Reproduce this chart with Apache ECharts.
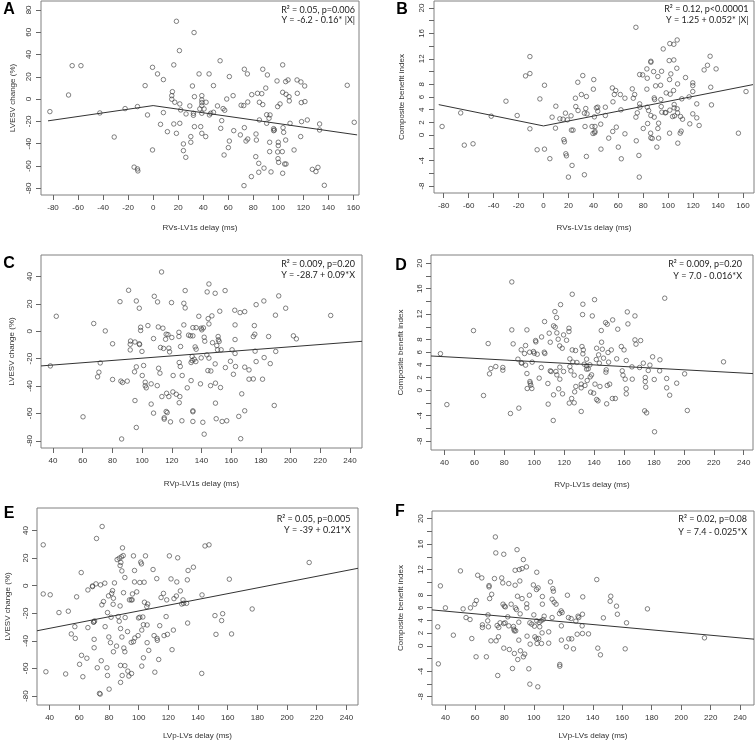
<!DOCTYPE html>
<html><head><meta charset="utf-8">
<script src="https://cdn.jsdelivr.net/npm/echarts@6/dist/echarts.min.js"></script>
<style>html,body{margin:0;padding:0;background:#fff}#c{width:756px;height:743px}</style>
</head><body><div id="c"></div>
<script>
// ---------- DATA ----------
const ptsA = [[-82.5,-11.2],[-64.7,30],[-57.7,30],[-67.6,3.7],[-42.6,-12.4],[-31.1,-34],[-22.4,-8.5],[-15.2,-61],[-12.5,-6.7],[-12.5,-62.6],[-12.2,-64.4],[-6.4,12.1],[-4.5,-14.2],[-0.5,28.5],[-0.5,-45.6],[3.5,22.6],[5.9,-22.6],[8.2,17.5],[8.2,-12.1],[11.4,-29.2],[15.4,6.7],[14.9,3.1],[14.9,-0.1],[16.5,30.7],[16.5,-22.3],[17.3,-2.8],[18.6,69.8],[18.6,-30.7],[21,43.5],[21.3,-4.3],[21.3,-21.7],[22,-9.7],[24.2,-40.2],[24.2,-46.2],[26.3,-13.3],[26.1,-52.2],[29.3,-6.1],[30.1,-33.6],[30.1,-38.7],[31.4,11.8],[32.2,-12.7],[32.2,-14.5],[32.7,59.7],[33,2.2],[33,-24.7],[36.7,22.6],[37.3,-8.8],[38,-24.7],[38.9,3.1],[38.9,-0.7],[38.9,-3.1],[38.9,-5.8],[38.9,-12.7],[38.9,-30.7],[40.7,-8.8],[42,-33.6],[42.3,-2.8],[44.7,22.6],[45,-14.2],[46,-12.7],[48.2,12.1],[48.2,-11.8],[51.4,-6.1],[53.5,34.4],[54,-26.2],[54.8,-19.3],[55.9,-8.5],[57.2,-10],[56.7,-50.1],[58.8,0.1],[60.1,-43.5],[60.9,20.2],[60.9,-37.6],[63.9,3.1],[64.4,-28.3],[69.7,-32.1],[70.3,-5.5],[72.4,-5.8],[72.6,-77.6],[72.9,26.8],[72.9,-25.6],[74.2,-37.6],[75.3,22.6],[75.6,-2.6],[75.6,-35.8],[78.5,-69.5],[78.8,4],[82.2,-31.3],[82,-51.6],[82.5,-36.7],[83.4,5.2],[84.4,-57.6],[84.9,-18.7],[84.4,-65.6],[84.9,-2.8],[86.8,4.9],[87.6,26.8],[87.6,-4.9],[88.6,-61.9],[90,9.9],[90.7,-14],[90.7,-21.7],[91.3,21.7],[92.6,-17.2],[93.1,-38.7],[93.1,-47.1],[93.4,-14.2],[94.2,-65.3],[96.3,-28.3],[96.3,-26.5],[96.9,-27.7],[99,16.3],[99.5,-6.7],[100,-38.7],[100,-41.7],[99.5,-47.4],[99.8,-53.4],[100.3,-56.7],[101.4,-4.3],[103.2,-47.1],[103.5,-66.5],[103.5,30.7],[103.5,6.1],[103.8,-25.6],[104.3,-29.8],[105.1,-58.2],[105.9,15.7],[105.9,-36.7],[106.2,4.3],[106.2,-58.2],[107.8,17.2],[108.6,2.2],[108.8,-1.6],[109.4,-21.7],[112.6,-45.6],[115,17.2],[115.2,5.2],[117.9,-33.6],[118.1,15.4],[118.4,-3.1],[118.6,-20.2],[121.1,11.8],[121.3,-2.2],[123.2,-18.7],[127.2,-63],[130.1,-65],[131.7,-61.2],[133,-22.3],[133,-27.7],[136.8,-77.3],[155.1,12.4],[160.7,-20.8]];
const ptsB = [[-81.3,1.36],[-66.4,3.5],[-63.5,-1.57],[-56.5,-1.36],[-41.9,2.98],[-30.1,5.34],[-21.1,3.09],[-14.4,9.32],[-10.9,12.36],[-10.9,9.69],[-10.9,1],[-2.9,5.7],[-5.1,-2.3],[0.8,7.85],[0.8,-2.2],[5.1,-3.7],[6.9,2.83],[9.6,1.1],[9.9,4.55],[13.1,2.57],[15.7,2.51],[16.3,-0.7],[16.8,-1.05],[17.6,3.46],[17.9,-2.93],[18.4,-3.25],[19.2,2.41],[20,-6.6],[22.1,3.04],[22.4,0.79],[22.9,-4.76],[23.7,0.79],[25.6,5.81],[25.9,4.5],[27.5,8.32],[27.7,3.87],[30.4,6.39],[31.5,9.37],[32.8,-6.23],[32.8,3.46],[33.3,1.36],[33.9,4.19],[34.4,6.07],[34.4,-3.35],[34.9,3.35],[38.9,1.36],[39.7,0.26],[40,7.23],[40.3,8.74],[40.8,2.88],[41.1,0.37],[41.3,0.58],[41.3,1.36],[42.4,4.29],[43.5,4.4],[43.5,3.77],[45.9,1.73],[46.1,-2.2],[49.6,4.4],[49.6,3.09],[52.3,-0.47],[55.2,7.43],[55.7,5.24],[55.5,0.58],[56.8,6.39],[57.9,7.02],[58.4,1.26],[60,-1.88],[61.6,6.39],[62.1,3.98],[62.4,-3.72],[65.3,5.81],[65.3,0.21],[71.2,7.28],[72,5.81],[73.1,6.39],[74.1,16.96],[74.1,2.83],[74.4,-0.89],[75.2,3.51],[76.5,-3.19],[76.8,-6.6],[77.1,9.53],[77.1,4.92],[77.3,4.4],[79.5,9.48],[80,1.05],[82.9,10.42],[82.9,7.23],[83.2,4.4],[83.2,8.95],[83.5,1.83],[84.3,3.87],[85.9,0.31],[86.1,11.62],[86.1,11.47],[86.1,3.09],[86.1,-0.42],[87.2,-0.52],[88.3,10],[88.8,2.83],[88.8,5.86],[89.1,5.6],[89.9,7.75],[90.9,-1.88],[91.7,9.22],[91.7,1.05],[92.3,-0.47],[92.3,1.88],[93.9,7.85],[94.1,5.6],[94.4,4.5],[94.7,10.05],[94.9,3.61],[96,13.56],[97.6,3.51],[98.1,3.56],[98.4,6.65],[100.8,11.73],[101.1,8.74],[101.1,0.31],[101.3,3.93],[101.3,14.4],[101.6,6.44],[102.1,9.63],[103.5,2.93],[104.3,7.02],[104.5,11.83],[104.5,14.29],[104.8,4.29],[104.8,4.82],[105.1,3.04],[107.2,14.97],[106.9,10.52],[107.5,8.06],[107.2,4.14],[107.5,3.51],[107.7,-1.26],[109.6,0.31],[109.9,2.93],[110.4,0.63],[110.9,5.71],[111.5,2.51],[113.9,9.06],[116.8,6.02],[117.3,1.78],[119.7,8.22],[119.7,7.8],[119.7,6.86],[119.7,3.35],[122.9,2.72],[122.9,4.92],[124.8,1.52],[128.8,10.26],[131.5,10.99],[133.6,12.41],[134.1,7.54],[134.7,4.76],[138.4,10.42],[156.3,0.31],[162.4,6.86]];
const ptsC = [[38.2,-25.3],[42.2,11],[60.2,-62.5],[67.4,5.7],[70,-33.3],[70.9,-29.9],[71.8,-23.1],[75.2,0.3],[80.1,-9.1],[80.1,-35.2],[85.1,21.7],[85.7,-36.4],[86.2,-78.7],[86.8,-37.4],[90,-36.4],[90.9,30],[92,-9.5],[92,-13.6],[92.2,-7.1],[94.9,-29.6],[95.2,-50.6],[95.2,-7.8],[96.1,22.2],[96.1,-26],[96.1,-70.3],[98.1,16.9],[98.1,-9.1],[98.3,-9.7],[99,3],[99,0.6],[99.9,-14.7],[100.1,-32.3],[101,-25],[102.1,-37.2],[102.1,-39.8],[102.8,-41.3],[103.9,4.2],[106.1,-53.2],[106.1,-38.4],[107.7,-5.3],[107.7,-59.8],[108.2,25.6],[110.2,-39.7],[110.4,21.5],[110.9,3.2],[111.1,-27],[112,-30.6],[112.4,-11.8],[113.1,43.4],[113.3,-47.7],[114,2.3],[114.4,-12.5],[114.9,-63.2],[114.9,-64.2],[115.8,-5.8],[116.2,-2.1],[116.2,-58.6],[116.5,-45.3],[116.9,-59.4],[117.4,-2.4],[118,-12.3],[118,-47.7],[118.5,-15],[119.1,-66.2],[120,-4.5],[119.8,21],[120.7,-44.3],[120.9,-32.3],[123,-46],[124.8,-0.7],[124.8,-3.8],[125,-22.8],[125,-52.2],[125.4,-47.7],[125.7,-25.7],[125.9,-11.1],[126.8,-65.4],[127,-32.3],[128.1,20.5],[128.1,4.7],[129,29.8],[129,17.1],[130.4,-41.3],[131.3,-2.8],[132.6,-3.3],[133,-22.8],[133,-36],[133.7,-21.4],[133.7,-18.4],[134.2,-58.1],[134.2,-65.9],[134.2,2.7],[134.2,-3.3],[134.2,-58.8],[135.1,-20.4],[135.7,-11.4],[136.4,2.7],[136.4,-13.1],[136.2,-22.1],[138.2,11],[139.3,-38.4],[139.8,2.3],[139.8,-19.4],[140.2,1.1],[140.9,-66.5],[141.3,2.5],[141.8,-75.2],[141.8,-4.3],[142.2,-7.2],[143.6,-17.2],[143.8,28.8],[144.3,-28.7],[144.5,9.3],[145,5.4],[145,-19.6],[145,34.6],[146.1,-39.7],[146.3,-29],[147,11.3],[147.4,-8.3],[149.2,27.8],[149.2,-23.8],[149.4,-37.9],[149.4,-52.5],[149.9,-63.9],[150.3,-10.4],[150.8,-13.5],[151.2,-3.8],[151.4,-6.2],[151.9,-7.4],[152.3,14.7],[152.8,-41.1],[153.2,-13.5],[153.9,-65.9],[155.9,29.8],[156.1,-26.5],[157,-65.4],[159.5,-21.9],[160.6,-13.5],[161.5,-31.4],[162.4,15.4],[162.6,4.7],[162.6,-6],[162.6,-16.2],[162.9,-25.7],[165.1,-62.2],[166,13.7],[166.4,-78.5],[167.1,-45.7],[169.1,-26.2],[169.1,-58.1],[169.1,14.4],[172,-28.2],[172,-35],[174.9,-34.8],[174.9,-3.8],[175.6,4.2],[175.9,-2.1],[176.1,-14.5],[176.8,19.5],[176.8,-22.1],[181.1,-35],[182,22.2],[182.2,-19.2],[185.2,-3.8],[186.3,-23.6],[189,-54.2],[189.8,11.8],[190,-14.7],[192,25.9],[196.7,16.9],[201.9,-3.3],[203.9,-5.5],[227,11.6]];
const ptsD = [[37.3,5.77],[41.6,-2.25],[59.4,9.4],[66.1,-0.82],[69.2,7.36],[70.1,2.59],[71,3.43],[74.3,3.74],[79,3.59],[79,3.17],[84.1,-3.65],[85,17.06],[85,9.51],[85.9,7.31],[89.7,-2.81],[89.1,4.9],[91.3,6.38],[91.3,4.33],[91.7,4.27],[93.5,5.79],[94.2,7.05],[94.2,3.96],[95.1,9.51],[95.1,2.64],[95.3,0.28],[96.9,6],[97.1,1.38],[97.3,1.12],[97.7,0.81],[98.4,0.28],[98.6,4.43],[99.5,6.1],[100,5.84],[100.9,7.83],[101.1,7.62],[102,5.68],[103.3,1.91],[104.7,3.59],[104.9,8.4],[106.7,6],[106.9,10.82],[107.1,5.79],[109.1,1.07],[109.3,-2.18],[110,8.99],[110.7,7.57],[110.7,3.06],[111.3,2.96],[112.7,-4.75],[112.9,10.14],[112.9,-0.71],[113.8,12.39],[114,9.93],[114.5,2.96],[114.9,11.45],[115.1,2.43],[115.1,9.04],[116,8.04],[116.3,0.23],[117,6.99],[117.1,3.64],[117.1,1.75],[117.6,13.49],[118.7,6.62],[118.9,-0.56],[119.6,8.72],[119.6,2.96],[121.6,7.88],[123.2,9.77],[123.2,9.25],[123.4,-2.02],[123.8,4.95],[123.8,3.74],[124.5,3.06],[125,-1.29],[125.4,6.36],[125.4,15.12],[125.8,4.43],[126.7,2.38],[126.7,-1.97],[127,-0.24],[127.6,6.26],[128.5,4.38],[127.8,0.6],[131.4,0.39],[131.4,2.12],[131.4,0.97],[131.4,-3.33],[131.9,6.89],[132.5,13.55],[132.3,11.92],[132.8,6.36],[132.5,5.74],[133.4,4.11],[133.9,0.76],[135,4.9],[135,3.33],[135,3.85],[135.4,1.54],[136.1,3.38],[137.2,4.01],[137.4,2.12],[137.7,-0.29],[138.3,2.43],[138.8,11.71],[139.7,-0.45],[140.3,14.27],[140.6,0.97],[141.5,4.85],[141.7,6.62],[141.7,-1.45],[142.6,-1.66],[143,5.58],[143.5,4.27],[143.9,0.6],[144.8,9.41],[145,7.57],[145.5,6.47],[146.3,5.06],[147.7,10.66],[147.9,2.85],[148.1,3.22],[148.4,-2.13],[148.8,10.4],[148.8,0.76],[149.3,5.95],[149.7,4.43],[150.4,0.97],[151.5,6.36],[152.2,-1.29],[152.4,11.08],[154.2,-1.29],[155.1,4.95],[155.8,9.62],[158.2,6.89],[158.8,3.06],[159.3,2.38],[160,6.36],[160.8,1.75],[161.5,4.69],[161.5,-0.56],[161.5,0.23],[162.2,12.34],[162.6,10.45],[165.3,3.69],[165.5,1.75],[167.3,7.94],[167.3,11.71],[168,7.26],[170.4,3.59],[171.1,7.83],[172.9,4.27],[174.2,2.01],[174.2,1.38],[174.5,0.49],[173.8,-3.23],[175.1,-3.55],[176.2,3.12],[177.3,3.96],[179.1,5.27],[180.2,1.7],[180.4,-6.53],[184,4.8],[183.8,3.06],[187.2,14.5],[188.5,1.86],[188.5,0.39],[190.5,-0.77],[195.2,1.12],[200.5,2.59],[202.3,-3.18],[226.5,4.48]];
const ptsE = [[35.7,29.6],[35.7,-6],[37.5,-62.4],[40.4,-6.6],[46.3,-19.5],[50.8,-64],[52.6,-18.5],[54.6,-35],[57,-29.7],[57.3,-38.2],[58.2,-8.1],[60.2,-57],[61.3,9.5],[61.5,-50.5],[62.4,-66],[65.1,-52.6],[65.8,-3.1],[65.8,-30.4],[68.9,-0.2],[68.9,-0.7],[69.6,-26.5],[69.8,-26.3],[70,-38.9],[70,-45],[70.3,-25.6],[71.2,1.3],[71.6,34.2],[72.1,-59.5],[73.6,-78.1],[74.1,-78.6],[74.3,0.6],[74.8,-54.4],[75.2,-13.9],[75.4,42.9],[76.3,-11.5],[77.2,1.8],[77.4,-29.7],[78.6,-59.5],[79,-19.5],[79,-65.1],[79.7,-7.4],[79.9,-37.2],[80.1,-75],[81,-41.3],[81.4,-22.9],[81.8,-5.6],[82.4,-3.6],[82.8,-13.5],[83,-47.9],[83,-9.1],[83.7,2],[85.1,-43.8],[85.5,18.9],[86.2,-22.4],[86.9,-25.8],[86.9,19.9],[87.5,14.6],[87.5,-14.7],[87.8,-31.1],[87.8,-57.8],[87.8,-70.1],[88,16.8],[88.4,20.9],[88.7,10.7],[88.7,-37.2],[88.9,-65.1],[89.1,27.4],[89.6,21.8],[89.8,-5.1],[90,-45.2],[90.7,-47.9],[90.7,-58],[90.7,5.9],[90.9,-23.1],[92.5,-33.3],[92.7,-61.9],[93.4,-65.5],[93.8,-10.3],[95,-10.3],[95,-41.1],[95.2,-63.7],[95.6,-10.3],[95.8,-6],[96.5,21.6],[96.5,-40.6],[97.2,11],[97.2,2.7],[97.4,-37.9],[98.7,-4.5],[99.6,-36.2],[99.9,-23.4],[100.8,2.3],[100.8,-22.9],[101.4,17.1],[101.9,15.8],[102.1,-32.2],[102.1,-58.3],[102.8,-22.7],[103.2,-28.3],[103.2,-52.3],[103.7,2.5],[103.9,-12],[104.6,21.6],[105.5,-15.2],[105.7,-41.3],[105.7,-28.5],[106.1,-13.3],[106.8,-46.9],[109.7,11.7],[110.4,-36.2],[110.9,-62.7],[112.2,5.1],[112.4,-38.2],[112.6,-39.6],[113.5,-53.5],[114.2,-29],[115.1,-8.6],[116.7,-5.6],[117.1,-36.2],[118.5,-22.4],[118.9,-10.3],[119.4,-35.3],[120.7,21.6],[121.8,4.9],[122.5,-46.4],[123.4,-32.2],[123.8,-9.4],[125.4,-7.5],[125.7,2.7],[126.3,20.2],[128.1,-3.8],[129,-13.3],[129.9,-10.3],[130.3,-12.8],[132.3,-12.8],[132.8,4.2],[133,-27.1],[133.3,11],[136.9,13.4],[142.5,-63.6],[142.7,-6.7],[144.7,28.8],[147.4,29.6],[151.4,-21.7],[152.1,-35.3],[155.9,-25.3],[156.6,-20.3],[161.1,4.7],[162.6,-35],[176.5,-16.9],[214.9,16.8]];
const ptsF = [[34.8,2.99],[35.2,-2.83],[36.6,9.43],[40,5.97],[45.4,1.68],[50.2,11.78],[52,5.81],[54,4.45],[56.7,4.14],[57,5.97],[57.9,1.15],[59.9,6.55],[60.8,-1.72],[61,7.12],[61.9,11.1],[64.7,10.68],[65.1,3.3],[65.1,2.89],[67.8,-1.72],[68.7,3.93],[68.9,4.87],[69.2,2.99],[69.6,9.48],[69.6,9.27],[70,7.43],[70.9,0.79],[71.4,8.11],[73.3,10.58],[73.9,17.12],[74.2,14.61],[74.4,0.79],[75.1,3.2],[75.5,-4.66],[76,1.42],[76.2,2.89],[77.1,3.62],[78.2,10.68],[78.9,9.9],[79.6,-0.36],[79.6,14.4],[79.1,6.55],[79.6,3.51],[80,6.24],[80.5,3.62],[80.7,6.13],[82.3,4.56],[83,9.79],[83,3.14],[83.4,-0.57],[84.6,6.55],[85.5,-3.56],[86.2,3.04],[86.4,2.62],[86.8,2.36],[86.8,-1.2],[87.3,9.53],[87.3,11.88],[87.5,5.97],[87.7,2.36],[88.2,5.71],[88.6,15.12],[88.9,7.8],[89.1,-2.15],[89.8,3.72],[89.8,0.9],[90.2,11.99],[90.5,10.2],[90.7,5.03],[90.9,-0.78],[92,12.15],[92,7.43],[92.9,13.56],[92.9,-1.72],[93.8,-1.3],[95,12.41],[95.2,6.6],[95.2,5.97],[95.4,1.52],[96.6,-3.61],[97,7.96],[97.3,3.62],[97.3,-6.02],[97.5,0.27],[98.6,3.41],[99.7,9.58],[100,4.87],[100.4,3.09],[100.7,1.42],[101.8,1.1],[101.8,8.85],[102,3.93],[102,11.57],[102.2,0.37],[102.7,-6.44],[102.9,9.11],[103.3,1.15],[103.6,3.67],[104,2.99],[104.9,3.93],[105.2,0.37],[105.6,2.04],[105.8,7.75],[105.8,6.55],[106.3,4.14],[107,4.66],[110.1,2.2],[110.1,0.42],[111.3,10.05],[112.4,7.33],[112.4,4.45],[112.9,9],[113.3,8.59],[113.8,6.86],[115.1,6.55],[117.4,5.08],[117.6,-2.93],[117.6,-3.2],[118.5,5.5],[118.7,3.14],[118.7,0.9],[119.2,5.24],[122.1,-0.15],[122.8,7.96],[123.5,4.45],[123.7,1.1],[125.3,4.29],[125.7,1.1],[126.9,-0.47],[128.5,3.88],[129.4,1.83],[130,4.66],[130.5,4.45],[132.8,3.14],[133,4.97],[133,1.94],[133.2,7.7],[137.1,1.88],[142.7,10.42],[143.4,-0.36],[145.2,-1.41],[147.2,4.4],[151.8,7.01],[152.2,7.8],[156.1,6.24],[156.7,4.97],[162,-0.47],[162.9,3.62],[177.1,5.81],[215.8,1.26]];

// fitted lines
const fitAx = [-84, 0, 163],   fitAy = [-19.5, -5.8, -32.1];
const fitBx = [-84, 0, 168],   fitBy = [4.8, 1.45, 7.95];
const fitCx = [31.9, 248.1],   fitCy = [-25.3, -7.3];
const fitDx = [31, 246.2],     fitDy = [5.4, 2.63];
const fitEx = [31.5, 247.8],   fitEy = [-32.7, 12.6];
const fitFx = [30.9, 249.4],   fitFy = [5.65, 1.05];

// ticks
const xTicksRVs = [-80,-60,-40,-20,0,20,40,60,80,100,120,140,160];
const xTicksDelay = [40,60,80,100,120,140,160,180,200,220,240];
const yTicksA = [-80,-60,-40,-20,0,20,40,60,80];
const yTicksCE = [-80,-60,-40,-20,0,20,40];
const yTicksCBI = [-8,-6,-4,-2,0,2,4,6,8,10,12,14,16,18,20];
const yLabelsCBI = [-8,-4,0,2,4,6,8,12,16,20];

// texts
const panelLetters = ['A','B','C','D','E','F'];
const xTitles = ['RVs-LV1s delay (ms)','RVs-LV1s delay (ms)','RVp-LV1s delay (ms)','RVp-LV1s delay (ms)','LVp-LVs delay (ms)','LVp-LVs delay (ms)'];
const yTitles = ['LVESV change (%)','Composite benefit index','LVESV change (%)','Composite benefit index','LVESV change (%)','Composite benefit index'];
const statLines = ['R\u00b2 = 0.05, p=0.006','R\u00b2 = 0.12, p<0.00001','R\u00b2 = 0.009, p=0.20','R\u00b2 = 0.009, p=0.20','R\u00b2 = 0.05, p=0.005','R\u00b2 = 0.02, p=0.08'];
const eqLines = ['Y = -6.2 - 0.16* |X|','Y = 1.25 + 0.052* |X|','Y = -28.7 + 0.09*X','Y = 7.0 - 0.016*X','Y = -39 + 0.21*X','Y = 7.4 - 0.025*X'];

// ---------- LAYOUT ----------
const FONT = 'Liberation Sans, Arial, sans-serif';
const ANNFONT = 'Lato, Open Sans, sans-serif';
const TXT = '#333';
const panels = [
  {pts:ptsA, fx:fitAx, fy:fitAy, grid:[41,1,318,194],  xr:[-89.6,164.5], yr:[-86,88],     xt:xTicksRVs,  yt:yTicksA,   yl:yTicksA,   xgap:29, ygap:24, ym:8, letter:[9,10],  ann:[355,10,20.5]},
  {pts:ptsB, fx:fitBx, fy:fitBy, grid:[434,1,320,192], xr:[-87.8,168.8], yr:[-9.1,21.1],  xt:xTicksRVs,  yt:yTicksCBI, yl:yLabelsCBI,xgap:31, ygap:28, ym:8, letter:[402,10],ann:[748.5,9,20]},
  {pts:ptsC, fx:fitCx, fy:fitCy, grid:[41,255,321,193],xr:[31.9,248.1],  yr:[-85.3,55.8], xt:xTicksDelay,yt:yTicksCE,  yl:yTicksCE,  xgap:32, ygap:25, ym:7, letter:[9,264], ann:[355,264,275]},
  {pts:ptsD, fx:fitDx, fy:fitDy, grid:[431,255,322,195],xr:[31,246.2],   yr:[-9.4,21.3],  xt:xTicksDelay,yt:yTicksCBI, yl:yLabelsCBI,xgap:31, ygap:26, ym:7, letter:[401,266],ann:[742,264,276]},
  {pts:ptsE, fx:fitEx, fy:fitEy, grid:[37,508,321,197],xr:[31.5,247.8],  yr:[-86.5,56.3], xt:xTicksDelay,yt:yTicksCE,  yl:yTicksCE,  xgap:27, ygap:25, ym:7, letter:[9,514], ann:[350.5,519,530]},
  {pts:ptsF, fx:fitFx, fy:fitFy, grid:[432,511,322,194],xr:[30.9,249.4], yr:[-9.3,21.2],  xt:xTicksDelay,yt:yTicksCBI, yl:yLabelsCBI,xgap:27, ygap:27, ym:7, letter:[400,512],ann:[747,519,532]}
];

const grids=[], xAxes=[], yAxes=[], series=[], graphics=[];
panels.forEach((p,i)=>{
  grids.push({left:p.grid[0], top:p.grid[1], width:p.grid[2], height:p.grid[3], show:true,
    borderColor:'#808080', borderWidth:1, backgroundColor:'rgba(0,0,0,0)'});
  xAxes.push({type:'value', gridIndex:i, min:p.xr[0], max:p.xr[1],
    axisLine:{show:false, onZero:false}, splitLine:{show:false},
    axisTick:{show:true, inside:false, length:5, customValues:p.xt, lineStyle:{color:'#666', width:1}},
    axisLabel:{customValues:p.xt, fontSize:8, fontFamily:FONT, color:TXT, margin:9},
    name:xTitles[i], nameLocation:'middle', nameGap:p.xgap,
    nameTextStyle:{fontSize:8, fontFamily:FONT, color:TXT}});
  yAxes.push({type:'value', gridIndex:i, min:p.yr[0], max:p.yr[1],
    axisLine:{show:false, onZero:false}, splitLine:{show:false},
    axisTick:{show:true, inside:false, length:5, customValues:p.yt, lineStyle:{color:'#666', width:1}},
    axisLabel:{customValues:p.yl, rotate:90, fontSize:8, fontFamily:FONT, color:TXT, margin:p.ym},
    name:yTitles[i], nameLocation:'middle', nameGap:p.ygap,
    nameTextStyle:{fontSize:8, fontFamily:FONT, color:TXT}});
  series.push({type:'scatter', xAxisIndex:i, yAxisIndex:i, data:p.pts, symbol:'circle', symbolSize:4.5,
    itemStyle:{color:'rgba(255,255,255,0)', borderColor:'#3a3a3a', borderWidth:0.8}, silent:true});
  series.push({type:'line', xAxisIndex:i, yAxisIndex:i, data:p.fx.map((x,k)=>[x,p.fy[k]]),
    symbol:'none', lineStyle:{color:'#333', width:1}, z:3, silent:true});
  graphics.push({type:'text', x:p.letter[0], y:p.letter[1],
    style:{text:panelLetters[i], font:'bold 16px '+FONT, fill:'#000', align:'center', verticalAlign:'middle'}});
  graphics.push({type:'text', x:p.ann[0], y:p.ann[1],
    style:{text:statLines[i], font:'9px '+ANNFONT, fill:'#222', align:'right', verticalAlign:'middle'}});
  graphics.push({type:'text', x:p.ann[0], y:p.ann[2],
    style:{text:eqLines[i], font:'9px '+ANNFONT, fill:'#222', align:'right', verticalAlign:'middle'}});
});

const chart = echarts.init(document.getElementById('c'), null, {renderer:'canvas'});
chart.setOption({animation:false, backgroundColor:'#fff', grid:grids, xAxis:xAxes, yAxis:yAxes, series:series, graphic:graphics});
</script></body></html>
